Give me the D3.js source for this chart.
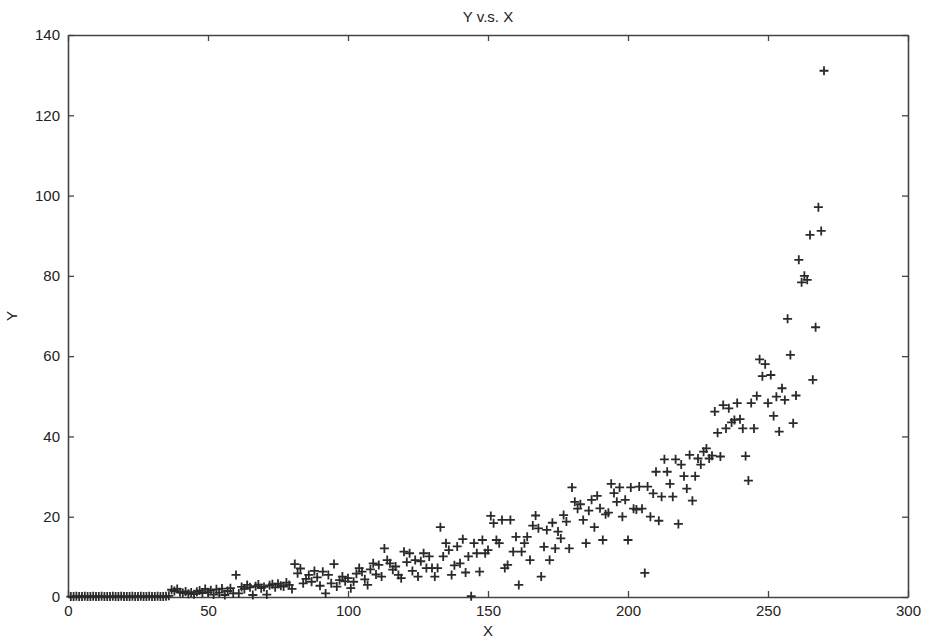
<!DOCTYPE html>
<meta charset="utf-8">
<script src="https://d3js.org/d3.v7.min.js"></script>
<style>
  body { margin: 0; background: #fff; }
  text { font-family: "Liberation Sans", Arial, sans-serif; fill: #222; }
</style>
<div id="my_dataviz"></div>
<script>

// y values, one per x = 1..270
var xStart = 1
var yVals = [
  0.1, 0.1, 0.2, 0.1, 0.1, 0.2, 0.1, 0.1, 0.2, 0.1,
  0.1, 0.2, 0.1, 0.1, 0.1, 0.2, 0.1, 0.1, 0.2, 0.1,
  0.1, 0.1, 0.2, 0.1, 0.1, 0.2, 0.1, 0.1, 0.2, 0.1,
  0.1, 0.2, 0.1, 0.1, 0.2, 0.3, 1.8, 1.5, 2.0, 1.2,
  1.0, 1.4, 0.8, 1.1, 0.7, 1.3, 1.6, 1.0, 2.0, 1.2,
  1.7, 0.6, 1.9, 1.1, 2.1, 0.5, 1.5, 2.2, 0.9, 5.5,
  0.9, 2.5, 2.0, 3.0, 2.4, 0.5, 2.7, 3.1, 2.2, 2.5,
  0.6, 2.9, 3.2, 2.4, 3.3, 2.8, 2.6, 3.6, 3.0, 2.0,
  8.2, 5.9, 7.1, 3.4, 4.5, 5.5, 3.8, 6.5, 4.9, 2.8,
  6.3, 0.9, 5.5, 3.4, 8.2, 2.6, 4.2, 5.1, 3.9, 4.7,
  2.2, 3.8, 5.8, 7.2, 6.3, 4.4, 3.0, 6.9, 8.4, 5.6,
  8.0, 5.1, 12.1, 9.2, 8.4, 6.8, 7.6, 5.5, 4.7, 11.3,
  8.7, 10.9, 6.5, 9.2, 5.1, 8.9, 10.9, 7.2, 10.1, 7.2,
  5.1, 7.2, 17.4, 10.1, 13.4, 11.7, 5.5, 7.9, 12.6, 8.4,
  14.4, 6.1, 10.1, 0.2, 13.4, 10.9, 6.3, 14.2, 10.9, 11.7,
  20.2, 18.4, 14.2, 13.4, 19.2, 7.2, 8.0, 19.2, 11.3, 15.0,
  3.0, 11.3, 13.4, 15.0, 9.2, 17.8, 20.3, 17.1, 5.1, 12.5,
  16.7, 9.2, 18.5, 12.1, 16.3, 14.6, 20.4, 18.8, 12.1, 27.3,
  23.7, 22.0, 23.1, 19.2, 13.4, 21.5, 24.2, 17.4, 25.2, 22.1,
  14.2, 20.6, 21.0, 28.2, 25.9, 23.7, 27.3, 20.0, 24.2, 14.2,
  27.3, 22.0, 21.8, 27.5, 22.0, 6.0, 27.5, 20.0, 25.8, 31.2,
  19.0, 25.0, 34.3, 31.2, 28.2, 25.0, 34.3, 18.2, 33.0, 30.1,
  27.0, 35.4, 24.0, 30.1, 34.5, 33.0, 36.2, 37.0, 34.5, 35.2,
  46.2, 40.9, 35.0, 47.8, 42.0, 47.0, 43.5, 44.1, 48.3, 44.3,
  42.0, 35.1, 29.0, 48.3, 42.0, 50.1, 59.2, 55.0, 58.0, 48.3,
  55.3, 45.1, 49.9, 41.2, 52.0, 49.1, 69.3, 60.3, 43.3, 50.2,
  84.0, 78.4, 80.0, 79.0, 90.2, 54.1, 67.2, 97.1, 91.2, 131.1
]
var xTicks = [0, 50, 100, 150, 200, 250, 300]
var yTicks = [0, 20, 40, 60, 80, 100, 120, 140]

var data = yVals.map(function(v, i) { return { x: xStart + i, y: v } })

var width = 927, height = 639
var margin = { top: 35, right: 19, bottom: 42, left: 68 }
var w = width - margin.left - margin.right
var h = height - margin.top - margin.bottom

var svg = d3.select("#my_dataviz")
  .append("svg")
    .attr("width", width)
    .attr("height", height)

var g = svg.append("g")
    .attr("transform", "translate(" + margin.left + "," + margin.top + ")")

var x = d3.scaleLinear().domain([0, 300]).range([0, w])
var y = d3.scaleLinear().domain([0, 140]).range([h, 0])

var axisColor = "#444"

// bottom / left axes with inward ticks
var xAxis = g.append("g")
    .attr("transform", "translate(0," + h + ")")
    .call(d3.axisBottom(x).tickValues(xTicks).tickSizeInner(-6).tickSizeOuter(0).tickPadding(8))
var yAxis = g.append("g")
    .call(d3.axisLeft(y).tickValues(yTicks).tickSizeInner(-6).tickSizeOuter(0).tickPadding(8))
// top / right axes, ticks only
var xTop = g.append("g")
    .call(d3.axisTop(x).tickValues(xTicks).tickSizeInner(-6).tickSizeOuter(0).tickFormat(""))
var yRight = g.append("g")
    .attr("transform", "translate(" + w + ",0)")
    .call(d3.axisRight(y).tickValues(yTicks).tickSizeInner(-6).tickSizeOuter(0).tickFormat(""))

;[xAxis, yAxis, xTop, yRight].forEach(function(a) {
  a.select(".domain").attr("stroke", axisColor).attr("stroke-width", 1.6)
  a.selectAll(".tick line").attr("stroke", axisColor).attr("stroke-width", 1.3)
  a.selectAll(".tick text").style("font-size", "15px").attr("fill", "#222")
})

// plus markers
g.selectAll("path.pt")
  .data(data)
  .enter()
  .append("path")
    .attr("class", "pt")
    .attr("d", "M-4.5,0H4.5M0,-4.5V4.5")
    .attr("transform", function(d) { return "translate(" + x(d.x) + "," + y(d.y) + ")" })
    .attr("stroke", "#2a2a2a")
    .attr("stroke-width", 1.8)
    .attr("fill", "none")

// title and labels
svg.append("text")
  .attr("x", margin.left + w / 2)
  .attr("y", 22)
  .attr("text-anchor", "middle")
  .style("font-size", "15px")
  .text("Y v.s. X")

svg.append("text")
  .attr("x", margin.left + w / 2)
  .attr("y", 636)
  .attr("text-anchor", "middle")
  .style("font-size", "15px")
  .text("X")

svg.append("text")
  .attr("transform", "translate(17," + (margin.top + h / 2) + ") rotate(-90)")
  .attr("text-anchor", "middle")
  .style("font-size", "15px")
  .text("Y")

</script>
